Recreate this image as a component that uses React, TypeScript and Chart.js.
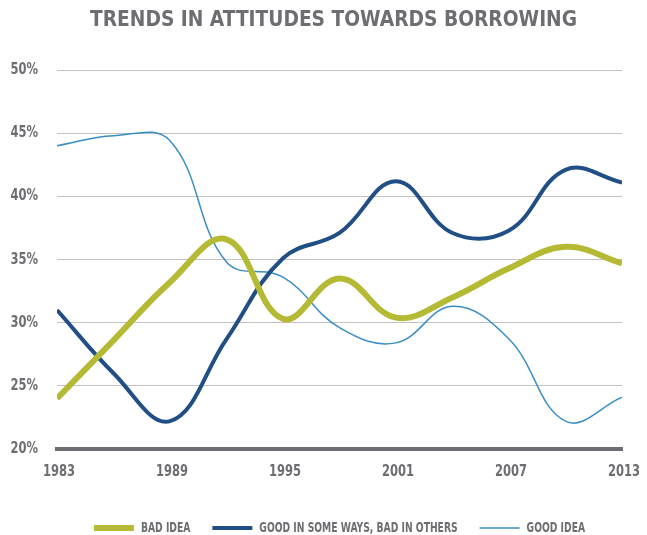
import React, { useEffect, useRef } from "react";
import { Chart, registerables } from "chart.js";

Chart.register(...registerables);

const TITLE = "TRENDS IN ATTITUDES TOWARDS BORROWING";
const years = [1983, 1986, 1989, 1992, 1995, 1998, 2001, 2004, 2007, 2010, 2013];
const badIdea = [24.0, 28.6, 33.2, 36.6, 30.3, 33.5, 30.4, 32.0, 34.3, 36.0, 34.7];
const mixedView = [31.0, 26.0, 22.2, 28.7, 35.1, 37.1, 41.2, 37.1, 37.3, 42.1, 41.1];
const goodIdea = [44.0, 44.8, 44.4, 34.8, 33.6, 29.6, 28.4, 31.3, 28.7, 22.2, 24.1];
const seriesNames = ["BAD IDEA", "GOOD IN SOME WAYS, BAD IN OTHERS", "GOOD IDEA"];
const xTicks = [1983, 1989, 1995, 2001, 2007, 2013];

const FONT = '"DejaVu Sans Condensed", "DejaVu Sans", sans-serif';
const GRAY = "#6d6e71";

// horizontal condensing per font size (the original uses a narrow gothic face)
const CONDENSE: Record<string, number> = { "16": 0.8, "14": 0.73 };

function condenseContext(ctx: any) {
  if (ctx.__condensed) return;
  ctx.__condensed = true;
  const origFill = ctx.fillText.bind(ctx);
  const origMeasure = ctx.measureText.bind(ctx);
  const factor = () => {
    const m = /(\d+(?:\.\d+)?)px/.exec(ctx.font);
    return m && CONDENSE[m[1]] ? CONDENSE[m[1]] : 1;
  };
  ctx.fillText = (t: string, x: number, y: number, mw?: number) => {
    const f = factor();
    if (f === 1) return mw === undefined ? origFill(t, x, y) : origFill(t, x, y, mw);
    ctx.save();
    ctx.translate(x, y);
    ctx.scale(f, 1);
    if (mw === undefined) origFill(t, 0, 0);
    else origFill(t, 0, 0, mw / f);
    ctx.restore();
  };
  ctx.measureText = (t: string) => {
    const m = origMeasure(t);
    const f = factor();
    if (f === 1) return m;
    return {
      width: m.width * f,
      actualBoundingBoxAscent: m.actualBoundingBoxAscent,
      actualBoundingBoxDescent: m.actualBoundingBoxDescent,
      actualBoundingBoxLeft: m.actualBoundingBoxLeft * f,
      actualBoundingBoxRight: m.actualBoundingBoxRight * f,
      fontBoundingBoxAscent: m.fontBoundingBoxAscent,
      fontBoundingBoxDescent: m.fontBoundingBoxDescent,
    };
  };
}

const titlePlugin = {
  id: "customTitle",
  afterDraw(chart: any) {
    const ctx = chart.ctx;
    ctx.save();
    ctx.font = `bold 22px ${FONT}`;
    ctx.fillStyle = GRAY;
    ctx.textBaseline = "alphabetic";
    ctx.textAlign = "left";
    const w = ctx.measureText(TITLE).width;
    ctx.translate(90, 26);
    ctx.scale(487 / w, 1);
    ctx.fillText(TITLE, 0, 0);
    ctx.restore();
  },
};

export default function App() {
  const ref = useRef<HTMLCanvasElement>(null);
  useEffect(() => {
    const canvas = ref.current!;
    condenseContext(canvas.getContext("2d"));
    const toPts = (arr: number[]) => years.map((x, i) => ({ x, y: arr[i] }));
    const chart = new Chart(canvas, {
      type: "line",
      data: {
        datasets: [
          { label: seriesNames[0], data: toPts(badIdea), borderColor: "#b4ba34", backgroundColor: "#b4ba34", borderWidth: 6, pointRadius: 0, tension: 0.4 },
          { label: seriesNames[1], data: toPts(mixedView), borderColor: "#214f85", backgroundColor: "#214f85", borderWidth: 4, pointRadius: 0, tension: 0.4 },
          { label: seriesNames[2], data: toPts(goodIdea), borderColor: "#3a8ec6", backgroundColor: "#3a8ec6", borderWidth: 1.5, pointRadius: 0, tension: 0.4 },
        ],
      },
      options: {
        animation: false,
        responsive: true,
        maintainAspectRatio: false,
        layout: { padding: { top: 70, left: 0, right: 25, bottom: -10 } },
        plugins: {
          title: { display: false },
          tooltip: { enabled: false },
          legend: {
            position: "bottom",
            fullSize: false,
            labels: {
              usePointStyle: true,
              pointStyle: "line",
              pointStyleWidth: 40,
              color: GRAY,
              font: { family: FONT, size: 14, weight: "bold" },
              padding: 22,
            },
          },
        },
        scales: {
          x: {
            type: "linear",
            min: 1983,
            max: 2013,
            afterBuildTicks: (axis: any) => {
              axis.ticks = xTicks.map((v) => ({ value: v }));
            },
            afterFit: (axis: any) => {
              axis.height = 50;
              axis.paddingLeft = 0;
              axis.paddingRight = 0;
            },
            ticks: {
              callback: (v: any) => String(v),
              color: GRAY,
              font: { family: FONT, size: 16, weight: "bold" },
              padding: 13,
              labelOffset: 2,
              maxRotation: 0,
            },
            grid: { display: false, drawTicks: false },
            border: { display: true, color: GRAY, width: 4 },
          },
          y: {
            min: 20,
            max: 50,
            afterFit: (axis: any) => {
              axis.width = 57;
            },
            ticks: {
              stepSize: 5,
              callback: (v: any) => v + "%",
              color: GRAY,
              font: { family: FONT, size: 16, weight: "bold" },
              padding: 19,
            },
            grid: { color: "#c2c2c2", lineWidth: 1, drawTicks: false },
            border: { display: false },
          },
        },
      },
      plugins: [titlePlugin],
    });
    return () => chart.destroy();
  }, []);
  return (
    <div style={{ position: "fixed", left: 0, top: 0, width: 647, height: 535, background: "#fff" }}>
      <canvas ref={ref} />
    </div>
  );
}
